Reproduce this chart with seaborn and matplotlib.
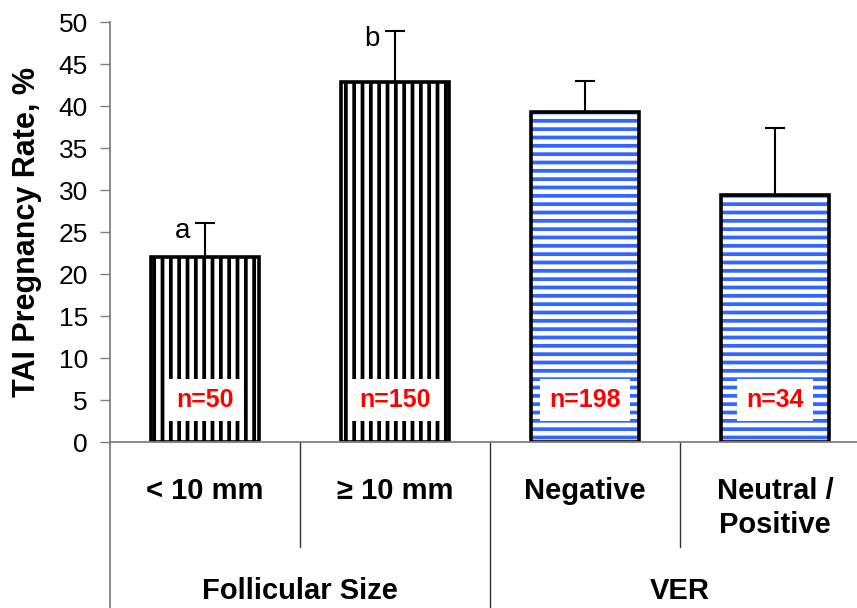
import matplotlib
matplotlib.use('Agg')
import matplotlib.pyplot as plt
import seaborn as sns
import pandas as pd

categories = ['< 10 mm', '≥ 10 mm', 'Negative', 'Neutral /\nPositive']
groups = ['Follicular Size', 'Follicular Size', 'VER', 'VER']
rates = [22.0, 42.9, 39.3, 29.4]
sem = [4.1, 6.0, 3.7, 8.0]
n_labels = ['n=50', 'n=150', 'n=198', 'n=34']
letters = ['a', 'b', '', '']

df = pd.DataFrame({'cat': categories, 'rate': rates, 'group': groups})

sns.set_style('white')
plt.rcParams['font.family'] = ['Liberation Sans', 'DejaVu Sans']
plt.rcParams['hatch.linewidth'] = 2.7
plt.rcParams['text.color'] = 'black'
plt.rcParams['axes.labelcolor'] = 'black'

fig = plt.figure(figsize=(8.57, 6.08), dpi=100)
ax = fig.add_axes([0.1284, 0.273, 0.8868, 0.6908])

# hatched fill
sns.barplot(data=df, x='cat', y='rate', color='white', width=0.57,
            errorbar=None, ax=ax)
hatches = ['||', '||', '--', '--']
hcolors = ['black', 'black', '#3366ff', '#3366ff']
for p, h, c in zip(ax.patches, hatches, hcolors):
    p.set_facecolor('white')
    p.set_edgecolor(c)
    p.set_hatch(h)
    p.set_linewidth(0)

# black outline on top
sns.barplot(data=df, x='cat', y='rate', fill=False, color='black', width=0.57,
            errorbar=None, linewidth=2.6, ax=ax)
for p in ax.patches[4:]:
    p.set_edgecolor('black')
    p.set_linewidth(2.6)

xpos = list(range(len(categories)))
ax.errorbar(xpos, rates, yerr=[[0] * len(sem), sem], fmt='none', ecolor='black',
            elinewidth=1.5, capsize=7, capthick=1.5, zorder=5)

for i, (lab, let) in enumerate(zip(n_labels, letters)):
    ax.text(i, 5, lab, color='red', fontweight='bold', fontsize=18,
            ha='center', va='center', zorder=6,
            bbox=dict(facecolor='white', edgecolor='none', pad=6.5))
    if let:
        ax.text(i - 0.12, rates[i] + sem[i] - 1.8, let, fontsize=20,
                ha='center', va='baseline')

ax.set_ylim(0, 50)
ax.set_xlim(-0.5, len(categories) - 0.5)
ax.set_yticks(range(0, 51, 5))
ax.tick_params(axis='y', direction='out', length=7, width=1, color='#808080',
               labelcolor='black', labelsize=19, pad=9, left=True)
ax.set_xticks(xpos)
ax.set_xticklabels(categories, fontsize=21, fontweight='bold', linespacing=1.3)
ax.tick_params(axis='x', length=0, pad=25, labelcolor='black')
ax.set_xlabel('')
ax.set_ylabel('TAI Pregnancy Rate, %', fontsize=22, fontweight='bold', labelpad=12)

for s in ['top', 'right']:
    ax.spines[s].set_visible(False)
for s in ['left', 'bottom']:
    ax.spines[s].set_color('#808080')
    ax.spines[s].set_linewidth(1.3)

# category separators below the axis
trans = ax.get_xaxis_transform()
group_names = list(dict.fromkeys(groups))
ax.plot([-0.5, -0.5], [0, -0.395], color='#808080', lw=1.3, transform=trans, clip_on=False)
for i in range(1, len(categories) + 1):
    x = i - 0.5
    long_line = i == len(categories) or groups[i] != groups[i - 1]
    ax.plot([x, x], [0, -0.395 if long_line else -0.25], color='#333333', lw=1,
            transform=trans, clip_on=False)

for g in group_names:
    idx = [i for i, gg in enumerate(groups) if gg == g]
    ax.text(sum(idx) / len(idx), -0.355, g, fontsize=21, fontweight='bold',
            ha='center', va='center', transform=trans)

fig.savefig('out.png', dpi=100)
